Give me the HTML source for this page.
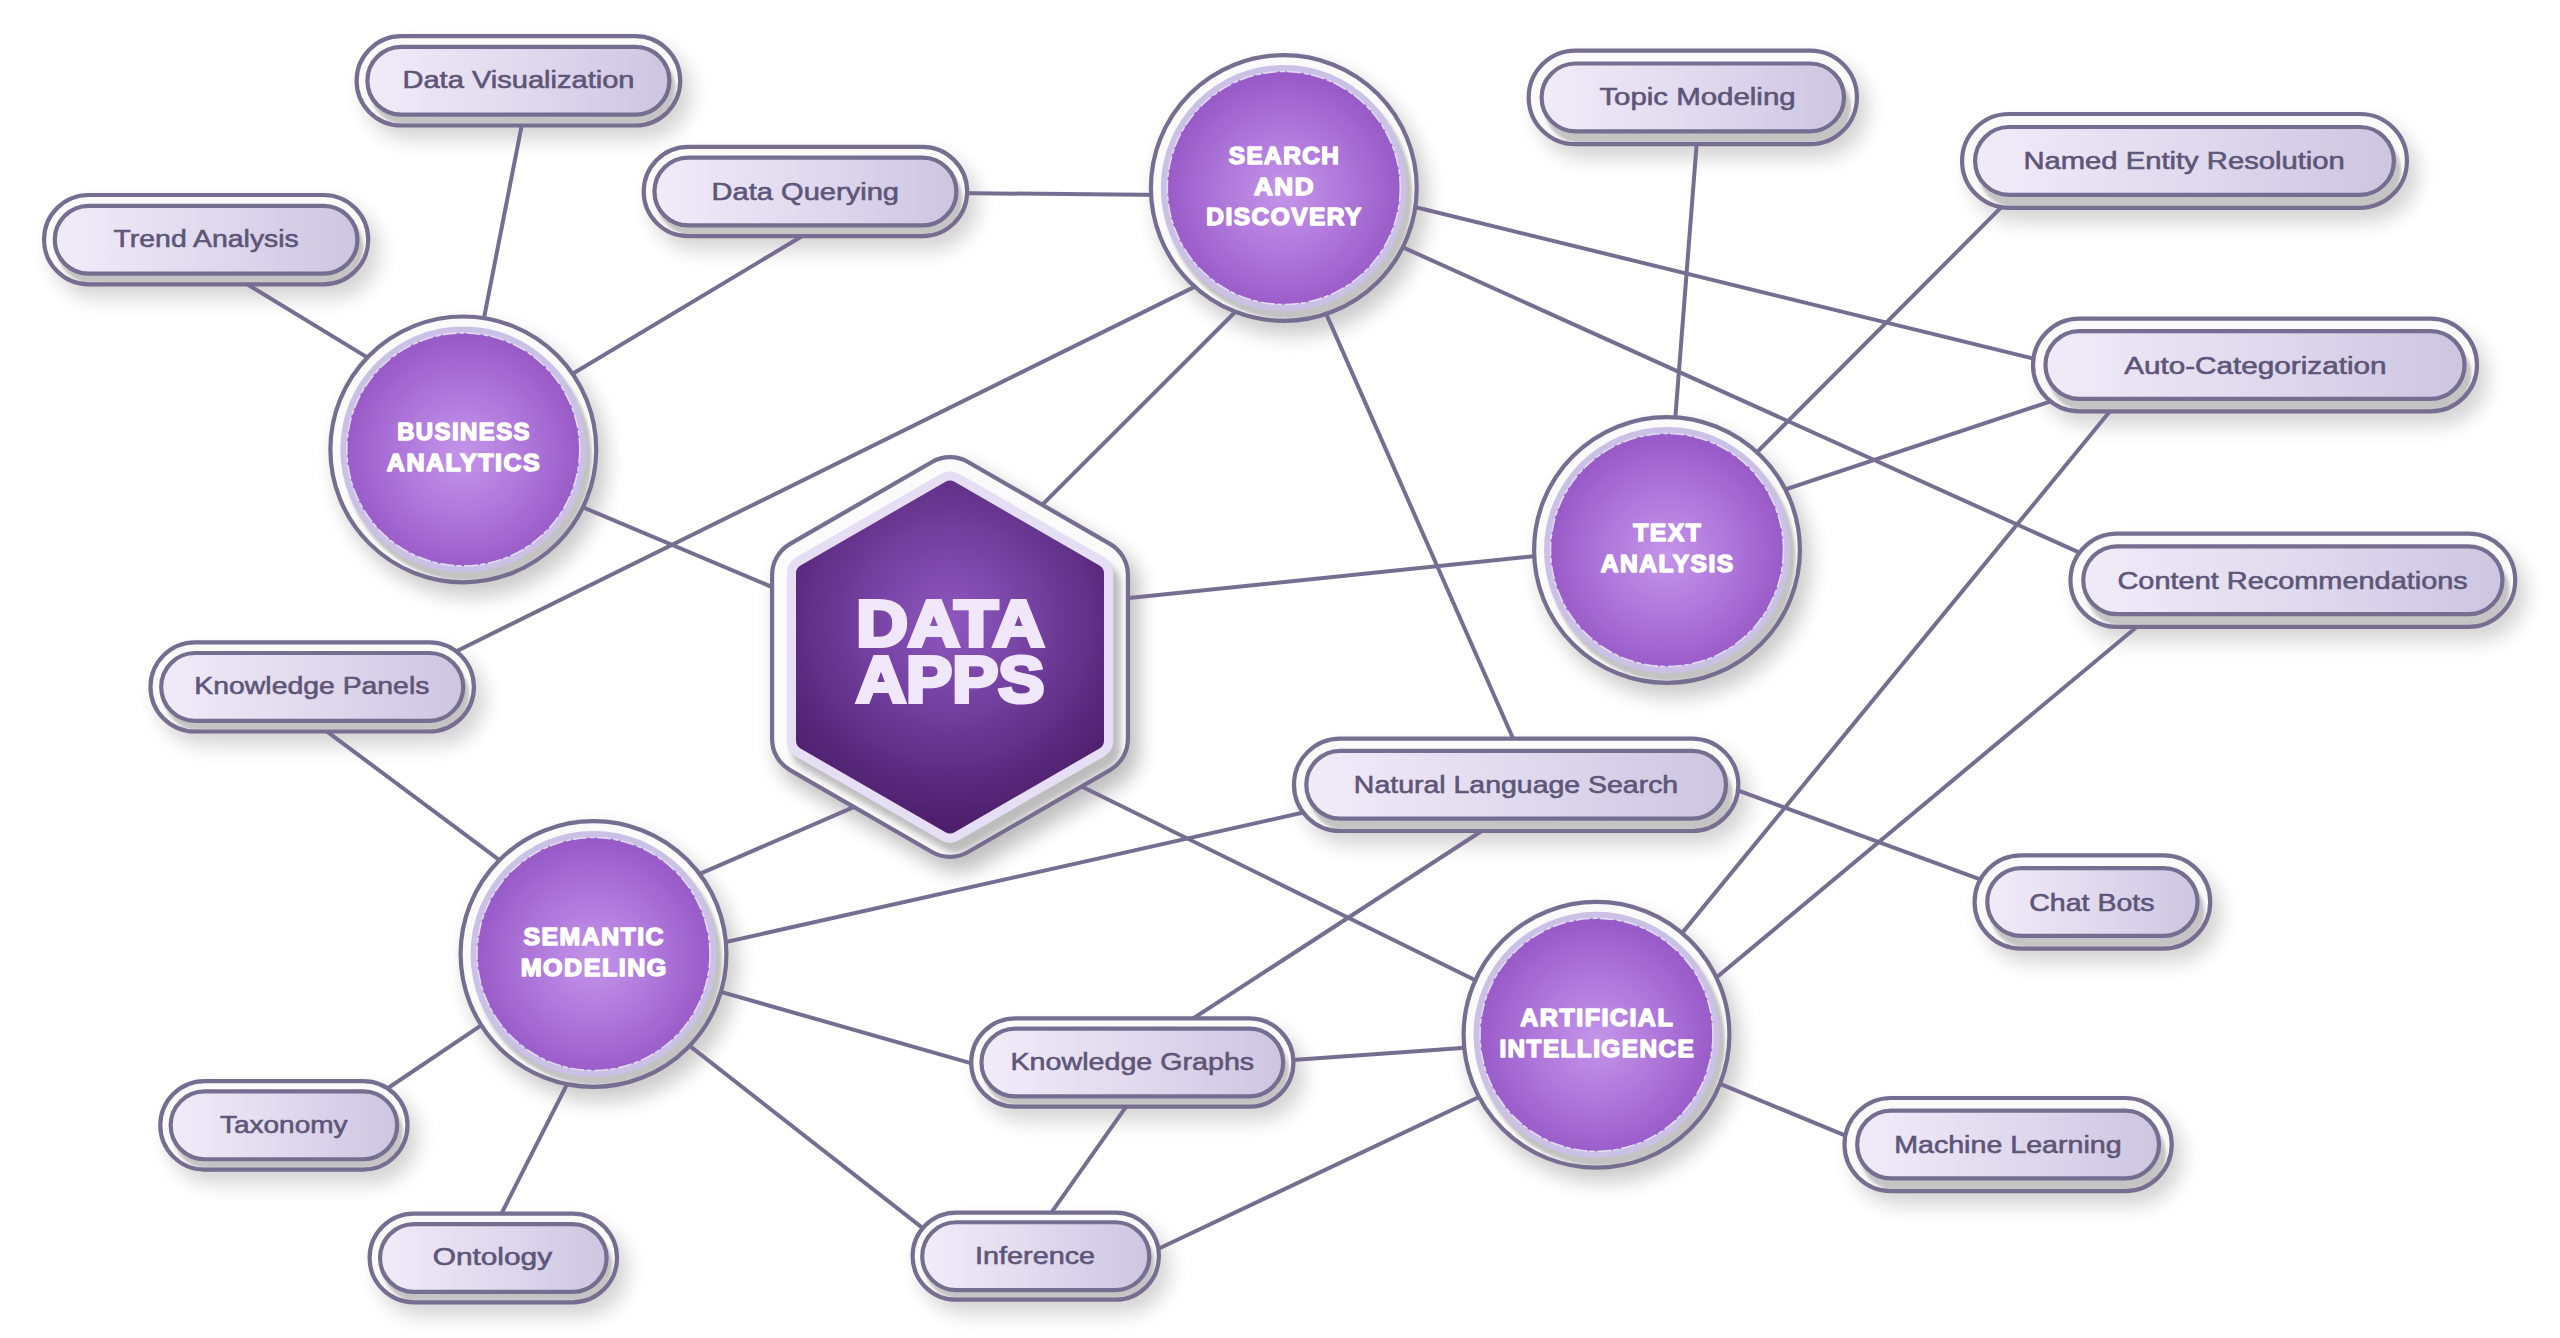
<!DOCTYPE html>
<html lang="en"><head><meta charset="utf-8"><title>Data Apps</title>
<style>html,body{margin:0;padding:0;background:#fff}svg{display:block}text{font-family:"Liberation Sans",Arial,sans-serif}.p{font-size:24.8px;fill:#5d5678;stroke:#5d5678;stroke-width:.6;text-anchor:middle}.c{font-size:23.6px;font-weight:bold;fill:#fff;stroke:#fff;stroke-width:1.5;stroke-linejoin:round;letter-spacing:1.4px;text-anchor:middle}.h{font-size:64px;font-weight:bold;fill:#f0e7fb;stroke:#f0e7fb;stroke-width:4;stroke-linejoin:miter;text-anchor:middle}</style></head><body>
<svg width="2560" height="1338" viewBox="0 0 2560 1338">
<defs>
<linearGradient id="pg" x1="0" y1="0" x2="1" y2="0"><stop offset="0" stop-color="#f1ebf9"/><stop offset=".5" stop-color="#e1daee"/><stop offset="1" stop-color="#cec5e1"/></linearGradient>
<radialGradient id="cg" cx=".5" cy=".52" r=".5"><stop offset="0" stop-color="#c495e9"/><stop offset=".55" stop-color="#ae76da"/><stop offset="1" stop-color="#995bc8"/></radialGradient>
<radialGradient id="hg" gradientUnits="userSpaceOnUse" cx="950.0" cy="621.0" r="212"><stop offset="0" stop-color="#8f57c0"/><stop offset=".4" stop-color="#7441a0"/><stop offset=".8" stop-color="#57277a"/><stop offset="1" stop-color="#4c1d69"/></radialGradient>
<linearGradient id="rg" x1="0" y1="0" x2="1" y2="1"><stop offset="0" stop-color="#ffffff"/><stop offset=".5" stop-color="#f4f4f4"/><stop offset=".78" stop-color="#c9c9c9"/><stop offset="1" stop-color="#b4b4b4"/></linearGradient>
<filter id="ds" x="-30%" y="-30%" width="160%" height="180%"><feGaussianBlur stdDeviation="10"/></filter>
<filter id="is" x="-30%" y="-30%" width="160%" height="180%"><feGaussianBlur stdDeviation="1.4"/></filter>
<filter id="is2" x="-10%" y="-10%" width="120%" height="120%"><feGaussianBlur stdDeviation="1.6"/></filter>
<filter id="is3" x="-10%" y="-10%" width="120%" height="120%"><feGaussianBlur stdDeviation="3"/></filter>
</defs>
<g id="shadows"><rect x="363.5" y="46" width="327.8" height="93.6" rx="46.8" fill="#000" opacity=".17" filter="url(#ds)"/>
<rect x="50.95" y="204.9" width="328.35" height="93.55" rx="46.77" fill="#000" opacity=".17" filter="url(#ds)"/>
<rect x="650.6" y="156.8" width="327.65" height="93.5" rx="46.75" fill="#000" opacity=".17" filter="url(#ds)"/>
<rect x="1535.6" y="60.5" width="332.4" height="97.8" rx="48.9" fill="#000" opacity=".17" filter="url(#ds)"/>
<rect x="1969" y="123.9" width="449" height="98" rx="49" fill="#000" opacity=".17" filter="url(#ds)"/>
<rect x="2039.9" y="328.5" width="448.2" height="96.9" rx="48.45" fill="#000" opacity=".17" filter="url(#ds)"/>
<rect x="2077.4" y="543.5" width="448.9" height="97.5" rx="48.75" fill="#000" opacity=".17" filter="url(#ds)"/>
<rect x="157.4" y="652.2" width="327.6" height="93.4" rx="46.7" fill="#000" opacity=".17" filter="url(#ds)"/>
<rect x="1300.9" y="748.5" width="448.5" height="96.6" rx="48.3" fill="#000" opacity=".17" filter="url(#ds)"/>
<rect x="1981.5" y="865.3" width="239.8" height="97.35" rx="48.68" fill="#000" opacity=".17" filter="url(#ds)"/>
<rect x="1851.4" y="1107.9" width="331.4" height="97.35" rx="48.67" fill="#000" opacity=".17" filter="url(#ds)"/>
<rect x="978.1" y="1028.3" width="326.4" height="92.5" rx="46.25" fill="#000" opacity=".17" filter="url(#ds)"/>
<rect x="919.5" y="1222.5" width="250.5" height="91.3" rx="45.65" fill="#000" opacity=".17" filter="url(#ds)"/>
<rect x="167.2" y="1091" width="251.4" height="92.7" rx="46.35" fill="#000" opacity=".17" filter="url(#ds)"/>
<rect x="376.5" y="1223.5" width="251.6" height="92.9" rx="46.45" fill="#000" opacity=".17" filter="url(#ds)"/>
<circle cx="471.3" cy="461.4" r="136" fill="#000" opacity=".2" filter="url(#ds)"/>
<circle cx="1291.8" cy="200" r="136" fill="#000" opacity=".2" filter="url(#ds)"/>
<circle cx="1675" cy="562" r="136" fill="#000" opacity=".2" filter="url(#ds)"/>
<circle cx="601.5" cy="966" r="136" fill="#000" opacity=".2" filter="url(#ds)"/>
<circle cx="1604.5" cy="1046.8" r="136" fill="#000" opacity=".2" filter="url(#ds)"/>
<path d="M939 470.97A38 38 0 0 1 977 470.97L1120 553.53A38 38 0 0 1 1139 586.44L1139 751.56A38 38 0 0 1 1120 784.47L977 867.03A38 38 0 0 1 939 867.03L796 784.47A38 38 0 0 1 777 751.56L777 586.44A38 38 0 0 1 796 553.53Z" fill="#000" opacity=".25" filter="url(#ds)"/></g>
<g stroke="#766e90" stroke-width="4.0" stroke-linecap="round" fill="none">
<line x1="235.43" y1="277.09" x2="380.37" y2="365.36"/>
<line x1="524.86" y1="109.34" x2="480.94" y2="333.66"/>
<line x1="814.44" y1="228.74" x2="560.56" y2="380.96"/>
<line x1="951" y1="193.04" x2="1166.3" y2="194.96"/>
<line x1="1207.14" y1="280.63" x2="442.26" y2="658.27"/>
<line x1="1245.43" y1="301.78" x2="1032.07" y2="514.92"/>
<line x1="1320.25" y1="300.43" x2="1519.45" y2="752.97"/>
<line x1="1401.52" y1="203.72" x2="2048.48" y2="362.28"/>
<line x1="1390.19" y1="241.6" x2="2093.41" y2="558.9"/>
<line x1="1697.9" y1="128.05" x2="1674.1" y2="433.25"/>
<line x1="2012.11" y1="196.46" x2="1746.49" y2="462.74"/>
<line x1="2065.08" y1="396.63" x2="1771.72" y2="493.97"/>
<line x1="2119.41" y1="399.68" x2="1672.59" y2="944.62"/>
<line x1="2148.02" y1="617.47" x2="1704.48" y2="987.53"/>
<line x1="570.41" y1="502.01" x2="786.89" y2="593.29"/>
<line x1="1112" y1="599.85" x2="1550.4" y2="554.45"/>
<line x1="1065.85" y1="778.76" x2="1489.15" y2="986.94"/>
<line x1="867.51" y1="801.14" x2="686.49" y2="879.66"/>
<line x1="315.37" y1="722.84" x2="512.43" y2="869.76"/>
<line x1="710.44" y1="945.44" x2="1317.86" y2="809.26"/>
<line x1="707.69" y1="988.06" x2="986.41" y2="1067.64"/>
<line x1="678.82" y1="1037.42" x2="934.28" y2="1237.08"/>
<line x1="493.73" y1="1016.95" x2="375.87" y2="1096.25"/>
<line x1="573.75" y1="1071.15" x2="494.35" y2="1227.55"/>
<line x1="1493.6" y1="823.3" x2="1181.3" y2="1026.1"/>
<line x1="1723.5" y1="785.1" x2="1994.5" y2="884.6"/>
<line x1="1278.35" y1="1061.08" x2="1479.75" y2="1046.72"/>
<line x1="1134.97" y1="1094.09" x2="1042.53" y2="1225.21"/>
<line x1="1144.73" y1="1255.2" x2="1493.27" y2="1090.3"/>
<line x1="1705.66" y1="1077.82" x2="1860.64" y2="1141.88"/>
</g>
<g id="pill0">
<clipPath id="pc0"><rect x="356.6" y="36.1" width="323.6" height="89.4" rx="44.7"/></clipPath>
<rect x="356.6" y="36.1" width="323.6" height="89.4" rx="44.7" fill="#fafafa"/>
<g clip-path="url(#pc0)"><rect x="369.35" y="52.9" width="306.2" height="72" rx="36" fill="#c4c4c4" filter="url(#is)"/></g>
<rect x="356.6" y="36.1" width="323.6" height="89.4" rx="44.7" fill="none" stroke="#766e90" stroke-width="4.2"/>
<rect x="367.4" y="46.9" width="302" height="67.8" rx="33.9" fill="url(#pg)" stroke="#766e90" stroke-width="4.2"/>
<text class="p" x="518.5" y="88.45" textLength="232.07" lengthAdjust="spacingAndGlyphs">Data Visualization</text>
</g>
<g id="pill1">
<clipPath id="pc1"><rect x="44.05" y="195" width="324.15" height="89.35" rx="44.67"/></clipPath>
<rect x="44.05" y="195" width="324.15" height="89.35" rx="44.67" fill="#fafafa"/>
<g clip-path="url(#pc1)"><rect x="56.76" y="211.75" width="306.8" height="72" rx="36" fill="#c4c4c4" filter="url(#is)"/></g>
<rect x="44.05" y="195" width="324.15" height="89.35" rx="44.67" fill="none" stroke="#766e90" stroke-width="4.2"/>
<rect x="54.82" y="205.78" width="302.6" height="67.8" rx="33.9" fill="url(#pg)" stroke="#766e90" stroke-width="4.2"/>
<text class="p" x="206.19" y="247.15" textLength="185.3" lengthAdjust="spacingAndGlyphs">Trend Analysis</text>
</g>
<g id="pill2">
<clipPath id="pc2"><rect x="643.7" y="146.9" width="323.45" height="89.3" rx="44.65"/></clipPath>
<rect x="643.7" y="146.9" width="323.45" height="89.3" rx="44.65" fill="#fafafa"/>
<g clip-path="url(#pc2)"><rect x="656.38" y="163.6" width="306.15" height="72" rx="36" fill="#c4c4c4" filter="url(#is)"/></g>
<rect x="643.7" y="146.9" width="323.45" height="89.3" rx="44.65" fill="none" stroke="#766e90" stroke-width="4.2"/>
<rect x="654.45" y="157.65" width="301.95" height="67.8" rx="33.9" fill="url(#pg)" stroke="#766e90" stroke-width="4.2"/>
<text class="p" x="805.3" y="199.55" textLength="187.38" lengthAdjust="spacingAndGlyphs">Data Querying</text>
</g>
<g id="pill3">
<clipPath id="pc3"><rect x="1528.7" y="50.6" width="328.2" height="93.6" rx="46.8"/></clipPath>
<rect x="1528.7" y="50.6" width="328.2" height="93.6" rx="46.8" fill="#fafafa"/>
<g clip-path="url(#pc3)"><rect x="1544.6" y="71.6" width="306.6" height="72" rx="36" fill="#c4c4c4" filter="url(#is)"/></g>
<rect x="1528.7" y="50.6" width="328.2" height="93.6" rx="46.8" fill="none" stroke="#766e90" stroke-width="4.2"/>
<rect x="1541.6" y="63.5" width="302.4" height="67.8" rx="33.9" fill="url(#pg)" stroke="#766e90" stroke-width="4.2"/>
<text class="p" x="1697.53" y="105.15" textLength="196.19" lengthAdjust="spacingAndGlyphs">Topic Modeling</text>
</g>
<g id="pill4">
<clipPath id="pc4"><rect x="1962.1" y="114" width="444.8" height="93.8" rx="46.9"/></clipPath>
<rect x="1962.1" y="114" width="444.8" height="93.8" rx="46.9" fill="#fafafa"/>
<g clip-path="url(#pc4)"><rect x="1978.15" y="135.2" width="423" height="72" rx="36" fill="#c4c4c4" filter="url(#is)"/></g>
<rect x="1962.1" y="114" width="444.8" height="93.8" rx="46.9" fill="none" stroke="#766e90" stroke-width="4.2"/>
<rect x="1975.1" y="127" width="418.8" height="67.8" rx="33.9" fill="url(#pg)" stroke="#766e90" stroke-width="4.2"/>
<text class="p" x="2184.11" y="169.35" textLength="321.43" lengthAdjust="spacingAndGlyphs">Named Entity Resolution</text>
</g>
<g id="pill5">
<clipPath id="pc5"><rect x="2033" y="318.6" width="444" height="92.7" rx="46.35"/></clipPath>
<rect x="2033" y="318.6" width="444" height="92.7" rx="46.35" fill="#fafafa"/>
<g clip-path="url(#pc5)"><rect x="2048.22" y="338.7" width="423.3" height="72" rx="36" fill="#c4c4c4" filter="url(#is)"/></g>
<rect x="2033" y="318.6" width="444" height="92.7" rx="46.35" fill="none" stroke="#766e90" stroke-width="4.2"/>
<rect x="2045.45" y="331.05" width="419.1" height="67.8" rx="33.9" fill="url(#pg)" stroke="#766e90" stroke-width="4.2"/>
<text class="p" x="2255.34" y="374.05" textLength="262.36" lengthAdjust="spacingAndGlyphs">Auto-Categorization</text>
</g>
<g id="pill6">
<clipPath id="pc6"><rect x="2070.5" y="533.6" width="444.7" height="93.3" rx="46.65"/></clipPath>
<rect x="2070.5" y="533.6" width="444.7" height="93.3" rx="46.65" fill="#fafafa"/>
<g clip-path="url(#pc6)"><rect x="2086.18" y="554.3" width="423.4" height="72" rx="36" fill="#c4c4c4" filter="url(#is)"/></g>
<rect x="2070.5" y="533.6" width="444.7" height="93.3" rx="46.65" fill="none" stroke="#766e90" stroke-width="4.2"/>
<rect x="2083.25" y="546.35" width="419.2" height="67.8" rx="33.9" fill="url(#pg)" stroke="#766e90" stroke-width="4.2"/>
<text class="p" x="2292.65" y="588.75" textLength="350.32" lengthAdjust="spacingAndGlyphs">Content Recommendations</text>
</g>
<g id="pill7">
<clipPath id="pc7"><rect x="150.5" y="642.3" width="323.4" height="89.2" rx="44.6"/></clipPath>
<rect x="150.5" y="642.3" width="323.4" height="89.2" rx="44.6" fill="#fafafa"/>
<g clip-path="url(#pc7)"><rect x="163.1" y="658.9" width="306.2" height="72" rx="36" fill="#c4c4c4" filter="url(#is)"/></g>
<rect x="150.5" y="642.3" width="323.4" height="89.2" rx="44.6" fill="none" stroke="#766e90" stroke-width="4.2"/>
<rect x="161.2" y="653" width="302" height="67.8" rx="33.9" fill="url(#pg)" stroke="#766e90" stroke-width="4.2"/>
<text class="p" x="311.9" y="694.15" textLength="235.02" lengthAdjust="spacingAndGlyphs">Knowledge Panels</text>
</g>
<g id="pill8">
<clipPath id="pc8"><rect x="1294" y="738.6" width="444.3" height="92.4" rx="46.2"/></clipPath>
<rect x="1294" y="738.6" width="444.3" height="92.4" rx="46.2" fill="#fafafa"/>
<g clip-path="url(#pc8)"><rect x="1309" y="758.4" width="423.9" height="72" rx="36" fill="#c4c4c4" filter="url(#is)"/></g>
<rect x="1294" y="738.6" width="444.3" height="92.4" rx="46.2" fill="none" stroke="#766e90" stroke-width="4.2"/>
<rect x="1306.3" y="750.9" width="419.7" height="67.8" rx="33.9" fill="url(#pg)" stroke="#766e90" stroke-width="4.2"/>
<text class="p" x="1516.03" y="793.05" textLength="324.36" lengthAdjust="spacingAndGlyphs">Natural Language Search</text>
</g>
<g id="pill9">
<clipPath id="pc9"><rect x="1974.6" y="855.4" width="235.6" height="93.15" rx="46.58"/></clipPath>
<rect x="1974.6" y="855.4" width="235.6" height="93.15" rx="46.58" fill="#fafafa"/>
<g clip-path="url(#pc9)"><rect x="1990.16" y="875.95" width="214.45" height="72" rx="36" fill="#c4c4c4" filter="url(#is)"/></g>
<rect x="1974.6" y="855.4" width="235.6" height="93.15" rx="46.58" fill="none" stroke="#766e90" stroke-width="4.2"/>
<rect x="1987.27" y="868.07" width="210.25" height="67.8" rx="33.9" fill="url(#pg)" stroke="#766e90" stroke-width="4.2"/>
<text class="p" x="2091.89" y="911.35" textLength="125.35" lengthAdjust="spacingAndGlyphs">Chat Bots</text>
</g>
<g id="pill10">
<clipPath id="pc10"><rect x="1844.5" y="1098" width="327.2" height="93.15" rx="46.57"/></clipPath>
<rect x="1844.5" y="1098" width="327.2" height="93.15" rx="46.57" fill="#fafafa"/>
<g clip-path="url(#pc10)"><rect x="1860.06" y="1118.55" width="306.05" height="72" rx="36" fill="#c4c4c4" filter="url(#is)"/></g>
<rect x="1844.5" y="1098" width="327.2" height="93.15" rx="46.57" fill="none" stroke="#766e90" stroke-width="4.2"/>
<rect x="1857.17" y="1110.67" width="301.85" height="67.8" rx="33.9" fill="url(#pg)" stroke="#766e90" stroke-width="4.2"/>
<text class="p" x="2007.88" y="1153.05" textLength="227.4" lengthAdjust="spacingAndGlyphs">Machine Learning</text>
</g>
<g id="pill11">
<clipPath id="pc11"><rect x="971.2" y="1018.4" width="322.2" height="88.3" rx="44.15"/></clipPath>
<rect x="971.2" y="1018.4" width="322.2" height="88.3" rx="44.15" fill="#fafafa"/>
<g clip-path="url(#pc11)"><rect x="983.12" y="1034.1" width="305.9" height="72" rx="36" fill="#c4c4c4" filter="url(#is)"/></g>
<rect x="971.2" y="1018.4" width="322.2" height="88.3" rx="44.15" fill="none" stroke="#766e90" stroke-width="4.2"/>
<rect x="981.45" y="1028.65" width="301.7" height="67.8" rx="33.9" fill="url(#pg)" stroke="#766e90" stroke-width="4.2"/>
<text class="p" x="1132.36" y="1069.75" textLength="243.68" lengthAdjust="spacingAndGlyphs">Knowledge Graphs</text>
</g>
<g id="pill12">
<clipPath id="pc12"><rect x="912.6" y="1212.6" width="246.3" height="87.1" rx="43.55"/></clipPath>
<rect x="912.6" y="1212.6" width="246.3" height="87.1" rx="43.55" fill="#fafafa"/>
<g clip-path="url(#pc12)"><rect x="923.62" y="1227.1" width="231.2" height="72" rx="36" fill="#c4c4c4" filter="url(#is)"/></g>
<rect x="912.6" y="1212.6" width="246.3" height="87.1" rx="43.55" fill="none" stroke="#766e90" stroke-width="4.2"/>
<rect x="922.25" y="1222.25" width="227" height="67.8" rx="33.9" fill="url(#pg)" stroke="#766e90" stroke-width="4.2"/>
<text class="p" x="1035.08" y="1263.55" textLength="120.09" lengthAdjust="spacingAndGlyphs">Inference</text>
</g>
<g id="pill13">
<clipPath id="pc13"><rect x="160.3" y="1081.1" width="247.2" height="88.5" rx="44.25"/></clipPath>
<rect x="160.3" y="1081.1" width="247.2" height="88.5" rx="44.25" fill="#fafafa"/>
<g clip-path="url(#pc13)"><rect x="172.38" y="1097" width="230.7" height="72" rx="36" fill="#c4c4c4" filter="url(#is)"/></g>
<rect x="160.3" y="1081.1" width="247.2" height="88.5" rx="44.25" fill="none" stroke="#766e90" stroke-width="4.2"/>
<rect x="170.65" y="1091.45" width="226.5" height="67.8" rx="33.9" fill="url(#pg)" stroke="#766e90" stroke-width="4.2"/>
<text class="p" x="283.78" y="1132.85" textLength="127.7" lengthAdjust="spacingAndGlyphs">Taxonomy</text>
</g>
<g id="pill14">
<clipPath id="pc14"><rect x="369.6" y="1213.6" width="247.4" height="88.7" rx="44.35"/></clipPath>
<rect x="369.6" y="1213.6" width="247.4" height="88.7" rx="44.35" fill="#fafafa"/>
<g clip-path="url(#pc14)"><rect x="381.83" y="1229.7" width="230.7" height="72" rx="36" fill="#c4c4c4" filter="url(#is)"/></g>
<rect x="369.6" y="1213.6" width="247.4" height="88.7" rx="44.35" fill="none" stroke="#766e90" stroke-width="4.2"/>
<rect x="380.05" y="1224.05" width="226.5" height="67.8" rx="33.9" fill="url(#pg)" stroke="#766e90" stroke-width="4.2"/>
<text class="p" x="492.4" y="1264.95" textLength="119.39" lengthAdjust="spacingAndGlyphs">Ontology</text>
</g>
<g id="circ0">
<clipPath id="cc0"><circle cx="463.3" cy="449.4" r="132.9"/></clipPath>
<circle cx="463.3" cy="449.4" r="132.9" fill="#fafafa"/>
<g clip-path="url(#cc0)"><circle cx="467.8" cy="456.9" r="124" fill="#c3c3c3" filter="url(#is2)"/></g>
<circle cx="463.3" cy="449.4" r="132.9" fill="none" stroke="#766e90" stroke-width="4.2"/>
<circle cx="463.3" cy="449.4" r="123" fill="#cbc0e5"/>
<circle cx="463.3" cy="449.4" r="116.5" fill="url(#cg)" stroke="#e3dbf3" stroke-width="1.6" stroke-dasharray="14 3 5 2"/>
<text class="c" x="464.05" y="440.35" textLength="133.8" lengthAdjust="spacingAndGlyphs">BUSINESS</text>
<text class="c" x="464.05" y="471.4" textLength="154.5" lengthAdjust="spacingAndGlyphs">ANALYTICS</text>
</g>
<g id="circ1">
<clipPath id="cc1"><circle cx="1283.8" cy="188" r="132.9"/></clipPath>
<circle cx="1283.8" cy="188" r="132.9" fill="#fafafa"/>
<g clip-path="url(#cc1)"><circle cx="1288.3" cy="195.5" r="124" fill="#c3c3c3" filter="url(#is2)"/></g>
<circle cx="1283.8" cy="188" r="132.9" fill="none" stroke="#766e90" stroke-width="4.2"/>
<circle cx="1283.8" cy="188" r="123" fill="#cbc0e5"/>
<circle cx="1283.8" cy="188" r="116.5" fill="url(#cg)" stroke="#e3dbf3" stroke-width="1.6" stroke-dasharray="14 3 5 2"/>
<text class="c" x="1284.55" y="163.9" textLength="111.7" lengthAdjust="spacingAndGlyphs">SEARCH</text>
<text class="c" x="1284.55" y="195" textLength="61.1" lengthAdjust="spacingAndGlyphs">AND</text>
<text class="c" x="1284.55" y="225.4" textLength="156.5" lengthAdjust="spacingAndGlyphs">DISCOVERY</text>
</g>
<g id="circ2">
<clipPath id="cc2"><circle cx="1667" cy="550" r="132.9"/></clipPath>
<circle cx="1667" cy="550" r="132.9" fill="#fafafa"/>
<g clip-path="url(#cc2)"><circle cx="1671.5" cy="557.5" r="124" fill="#c3c3c3" filter="url(#is2)"/></g>
<circle cx="1667" cy="550" r="132.9" fill="none" stroke="#766e90" stroke-width="4.2"/>
<circle cx="1667" cy="550" r="123" fill="#cbc0e5"/>
<circle cx="1667" cy="550" r="116.5" fill="url(#cg)" stroke="#e3dbf3" stroke-width="1.6" stroke-dasharray="14 3 5 2"/>
<text class="c" x="1667.75" y="540.95" textLength="69" lengthAdjust="spacingAndGlyphs">TEXT</text>
<text class="c" x="1667.75" y="572" textLength="133.8" lengthAdjust="spacingAndGlyphs">ANALYSIS</text>
</g>
<g id="circ3">
<clipPath id="cc3"><circle cx="593.5" cy="954" r="132.9"/></clipPath>
<circle cx="593.5" cy="954" r="132.9" fill="#fafafa"/>
<g clip-path="url(#cc3)"><circle cx="598" cy="961.5" r="124" fill="#c3c3c3" filter="url(#is2)"/></g>
<circle cx="593.5" cy="954" r="132.9" fill="none" stroke="#766e90" stroke-width="4.2"/>
<circle cx="593.5" cy="954" r="123" fill="#cbc0e5"/>
<circle cx="593.5" cy="954" r="116.5" fill="url(#cg)" stroke="#e3dbf3" stroke-width="1.6" stroke-dasharray="14 3 5 2"/>
<text class="c" x="594.25" y="944.95" textLength="141.5" lengthAdjust="spacingAndGlyphs">SEMANTIC</text>
<text class="c" x="594.25" y="976" textLength="147.2" lengthAdjust="spacingAndGlyphs">MODELING</text>
</g>
<g id="circ4">
<clipPath id="cc4"><circle cx="1596.5" cy="1034.8" r="132.9"/></clipPath>
<circle cx="1596.5" cy="1034.8" r="132.9" fill="#fafafa"/>
<g clip-path="url(#cc4)"><circle cx="1601" cy="1042.3" r="124" fill="#c3c3c3" filter="url(#is2)"/></g>
<circle cx="1596.5" cy="1034.8" r="132.9" fill="none" stroke="#766e90" stroke-width="4.2"/>
<circle cx="1596.5" cy="1034.8" r="123" fill="#cbc0e5"/>
<circle cx="1596.5" cy="1034.8" r="116.5" fill="url(#cg)" stroke="#e3dbf3" stroke-width="1.6" stroke-dasharray="14 3 5 2"/>
<text class="c" x="1597.25" y="1025.75" textLength="153.9" lengthAdjust="spacingAndGlyphs">ARTIFICIAL</text>
<text class="c" x="1597.25" y="1056.8" textLength="195.7" lengthAdjust="spacingAndGlyphs">INTELLIGENCE</text>
</g>
<g id="hex">
<clipPath id="hc"><path d="M932 461.97A36 36 0 0 1 968 461.97L1109.9 543.9A36 36 0 0 1 1127.9 575.07L1127.9 738.93A36 36 0 0 1 1109.9 770.1L968 852.03A36 36 0 0 1 932 852.03L790.1 770.1A36 36 0 0 1 772.1 738.93L772.1 575.07A36 36 0 0 1 790.1 543.9Z"/></clipPath>
<path d="M932 461.97A36 36 0 0 1 968 461.97L1109.9 543.9A36 36 0 0 1 1127.9 575.07L1127.9 738.93A36 36 0 0 1 1109.9 770.1L968 852.03A36 36 0 0 1 932 852.03L790.1 770.1A36 36 0 0 1 772.1 738.93L772.1 575.07A36 36 0 0 1 790.1 543.9Z" fill="#fbfbfb"/>
<g clip-path="url(#hc)"><path d="M945 482.9A22 22 0 0 1 967 482.9L1109.5 565.18A22 22 0 0 1 1120.5 584.23L1120.5 748.77A22 22 0 0 1 1109.5 767.82L967 850.1A22 22 0 0 1 945 850.1L802.5 767.82A22 22 0 0 1 791.5 748.77L791.5 584.23A22 22 0 0 1 802.5 565.18Z" fill="#bdbdbd" filter="url(#is3)"/></g>
<path d="M932 461.97A36 36 0 0 1 968 461.97L1109.9 543.9A36 36 0 0 1 1127.9 575.07L1127.9 738.93A36 36 0 0 1 1109.9 770.1L968 852.03A36 36 0 0 1 932 852.03L790.1 770.1A36 36 0 0 1 772.1 738.93L772.1 575.07A36 36 0 0 1 790.1 543.9Z" fill="none" stroke="#766e90" stroke-width="4.2"/>
<path d="M941 473.75A18 18 0 0 1 959 473.75L1104.2 557.58A18 18 0 0 1 1113.2 573.17L1113.2 740.83A18 18 0 0 1 1104.2 756.42L959 840.25A18 18 0 0 1 941 840.25L795.8 756.42A18 18 0 0 1 786.8 740.83L786.8 573.17A18 18 0 0 1 795.8 557.58Z" fill="#e6def5"/>
<path d="M945.5 481.77A9 9 0 0 1 954.5 481.77L1099.5 565.49A9 9 0 0 1 1104 573.28L1104 740.72A9 9 0 0 1 1099.5 748.51L954.5 832.23A9 9 0 0 1 945.5 832.23L800.5 748.51A9 9 0 0 1 796 740.72L796 573.28A9 9 0 0 1 800.5 565.49Z" fill="url(#hg)"/>
<text class="h" x="950.35" y="645.7" textLength="188.1" lengthAdjust="spacingAndGlyphs">DATA</text>
<text class="h" x="950.25" y="701.8" textLength="188.4" lengthAdjust="spacingAndGlyphs">APPS</text>
</g>
</svg></body></html>
